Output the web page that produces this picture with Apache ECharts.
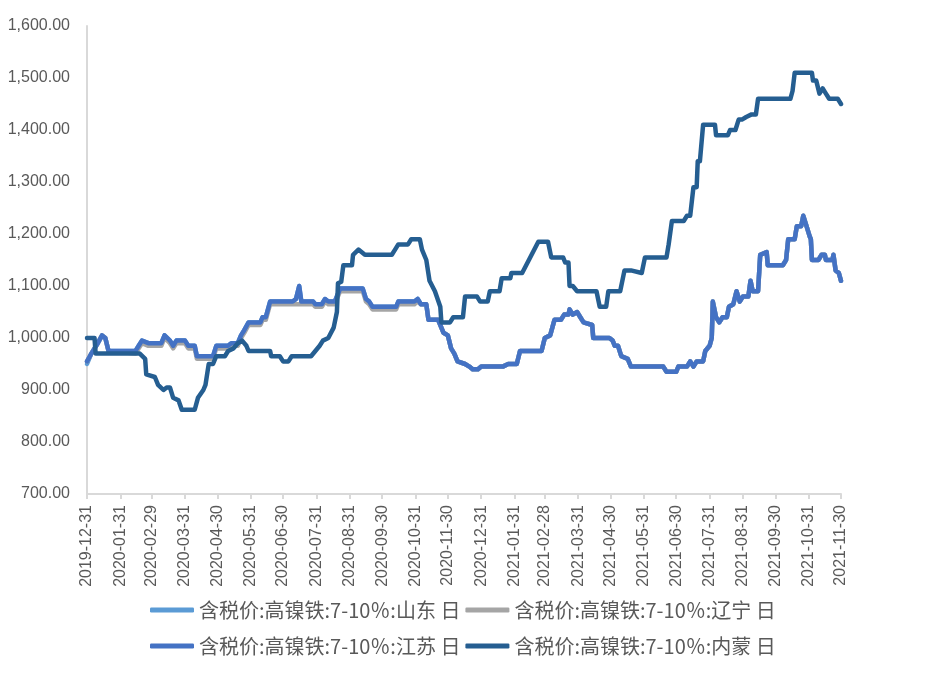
<!DOCTYPE html>
<html><head><meta charset="utf-8">
<script src="https://cdn.jsdelivr.net/npm/echarts@6/dist/echarts.min.js"></script>
<style>html,body{margin:0;padding:0;background:#fff}#c{width:929px;height:678px}</style>
</head><body><div id="c"></div>
<script>
const seriesNames = ['含税价:高镍铁:7-10％:山东 日','含税价:高镍铁:7-10％:辽宁 日','含税价:高镍铁:7-10％:江苏 日','含税价:高镍铁:7-10％:内蒙 日'];
const seriesColors = ['#5B9BD5','#A5A5A5','#4472C4','#255E91'];
const monthEndLabels = ['2019-12-31','2020-01-31','2020-02-29','2020-03-31','2020-04-30','2020-05-31','2020-06-30','2020-07-31','2020-08-31','2020-09-30','2020-10-31','2020-11-30','2020-12-31','2021-01-31','2021-02-28','2021-03-31','2021-04-30','2021-05-31','2021-06-30','2021-07-31','2021-08-31','2021-09-30','2021-10-31','2021-11-30'];
const yTicks = {min:700, max:1600, step:100};

// daily calendar categories
const categories = [];
(function(){
  let t = Date.UTC(2019,11,31); const end = Date.UTC(2021,10,30);
  while (t <= end) { categories.push(new Date(t).toISOString().slice(0,10)); t += 86400000; }
})();

const shandong = [['2019-12-31',950],['2020-01-04',970],['2020-01-10',990],['2020-01-14',1005],['2020-01-17',1000],['2020-01-20',975],['2020-02-14',975],['2020-02-17',985],['2020-02-20',995],['2020-02-26',990],['2020-03-09',990],['2020-03-12',1005],['2020-03-17',995],['2020-03-20',985],['2020-03-23',995],['2020-03-31',995],['2020-04-03',985],['2020-04-09',985],['2020-04-11',965],['2020-04-26',965],['2020-04-29',985],['2020-05-10',985],['2020-05-13',990],['2020-05-19',990],['2020-05-22',1005],['2020-05-25',1015],['2020-05-29',1030],['2020-06-09',1030],['2020-06-11',1040],['2020-06-14',1040],['2020-06-18',1070],['2020-07-09',1070],['2020-07-12',1075],['2020-07-15',1100],['2020-07-17',1070],['2020-07-28',1070],['2020-07-30',1065],['2020-08-05',1065],['2020-08-08',1075],['2020-08-11',1070],['2020-08-17',1070],['2020-08-22',1095],['2020-09-12',1095],['2020-09-15',1075],['2020-09-18',1070],['2020-09-21',1060],['2020-10-13',1060],['2020-10-15',1070],['2020-10-30',1070],['2020-11-02',1075],['2020-11-05',1065],['2020-11-10',1065],['2020-11-12',1035],['2020-11-21',1035],['2020-11-26',1010],['2020-11-30',1005],['2020-12-03',980],['2020-12-06',970],['2020-12-09',955],['2020-12-16',950],['2020-12-20',945],['2020-12-23',940],['2020-12-28',940],['2020-12-31',945],['2021-01-20',945],['2021-01-25',950],['2021-02-02',950],['2021-02-05',975],['2021-02-25',975],['2021-02-28',1000],['2021-03-05',1005],['2021-03-09',1035],['2021-03-15',1035],['2021-03-18',1045],['2021-03-22',1045],['2021-03-23',1055],['2021-03-26',1045],['2021-03-30',1050],['2021-04-02',1040],['2021-04-05',1030],['2021-04-13',1025],['2021-04-14',1000],['2021-04-29',1000],['2021-05-02',995],['2021-05-04',985],['2021-05-07',985],['2021-05-10',965],['2021-05-16',960],['2021-05-19',945],['2021-06-18',945],['2021-06-21',935],['2021-06-30',935],['2021-07-02',945],['2021-07-10',945],['2021-07-13',955],['2021-07-16',945],['2021-07-19',955],['2021-07-25',955],['2021-07-27',975],['2021-07-31',985],['2021-08-02',1000],['2021-08-03',1070],['2021-08-06',1040],['2021-08-09',1030],['2021-08-12',1040],['2021-08-16',1040],['2021-08-18',1060],['2021-08-22',1065],['2021-08-25',1090],['2021-08-28',1070],['2021-08-31',1080],['2021-09-05',1080],['2021-09-07',1110],['2021-09-09',1090],['2021-09-14',1090],['2021-09-16',1160],['2021-09-22',1165],['2021-09-23',1140],['2021-10-07',1140],['2021-10-10',1150],['2021-10-12',1190],['2021-10-18',1190],['2021-10-20',1215],['2021-10-24',1215],['2021-10-26',1235],['2021-10-29',1215],['2021-11-01',1195],['2021-11-02',1190],['2021-11-03',1150],['2021-11-09',1150],['2021-11-12',1160],['2021-11-15',1160],['2021-11-16',1150],['2021-11-22',1150],['2021-11-23',1160],['2021-11-25',1130],['2021-11-28',1125],['2021-11-30',1110]];

const liaoning = [['2019-12-31',955],['2020-01-04',970],['2020-01-10',990],['2020-01-14',1005],['2020-01-17',1000],['2020-01-20',975],['2020-02-14',970],['2020-02-17',980],['2020-02-20',990],['2020-02-26',985],['2020-03-09',985],['2020-03-12',1000],['2020-03-17',990],['2020-03-20',980],['2020-03-23',990],['2020-03-31',990],['2020-04-03',980],['2020-04-09',980],['2020-04-11',960],['2020-04-26',960],['2020-04-29',980],['2020-05-10',980],['2020-05-13',985],['2020-05-19',985],['2020-05-22',1000],['2020-05-25',1010],['2020-05-29',1025],['2020-06-09',1025],['2020-06-11',1035],['2020-06-14',1035],['2020-06-18',1065],['2020-07-09',1065],['2020-07-12',1065],['2020-07-15',1065],['2020-07-17',1065],['2020-07-28',1065],['2020-07-30',1060],['2020-08-05',1060],['2020-08-08',1070],['2020-08-11',1065],['2020-08-17',1065],['2020-08-22',1090],['2020-09-12',1090],['2020-09-15',1070],['2020-09-18',1065],['2020-09-21',1055],['2020-10-13',1055],['2020-10-15',1065],['2020-10-30',1065],['2020-11-02',1070],['2020-11-05',1065],['2020-11-10',1065],['2020-11-12',1035],['2020-11-21',1035],['2020-11-26',1010],['2020-11-30',1005],['2020-12-03',980],['2020-12-06',970],['2020-12-09',955],['2020-12-16',950],['2020-12-20',945],['2020-12-23',940],['2020-12-28',940],['2020-12-31',945],['2021-01-20',945],['2021-01-25',950],['2021-02-02',950],['2021-02-05',975],['2021-02-25',975],['2021-02-28',1000],['2021-03-05',1005],['2021-03-09',1035],['2021-03-15',1035],['2021-03-18',1045],['2021-03-22',1045],['2021-03-23',1055],['2021-03-26',1045],['2021-03-30',1050],['2021-04-02',1040],['2021-04-05',1030],['2021-04-13',1025],['2021-04-14',1000],['2021-04-29',1000],['2021-05-02',995],['2021-05-04',985],['2021-05-07',985],['2021-05-10',965],['2021-05-16',960],['2021-05-19',945],['2021-06-18',945],['2021-06-21',935],['2021-06-30',935],['2021-07-02',945],['2021-07-10',945],['2021-07-13',955],['2021-07-16',945],['2021-07-19',955],['2021-07-25',955],['2021-07-27',975],['2021-07-31',985],['2021-08-02',1000],['2021-08-03',1070],['2021-08-06',1040],['2021-08-09',1030],['2021-08-12',1040],['2021-08-16',1040],['2021-08-18',1060],['2021-08-22',1065],['2021-08-25',1090],['2021-08-28',1070],['2021-08-31',1080],['2021-09-05',1080],['2021-09-07',1110],['2021-09-09',1090],['2021-09-14',1090],['2021-09-16',1160],['2021-09-22',1165],['2021-09-23',1140],['2021-10-07',1140],['2021-10-10',1150],['2021-10-12',1190],['2021-10-18',1190],['2021-10-20',1215],['2021-10-24',1215],['2021-10-26',1235],['2021-10-29',1215],['2021-11-01',1195],['2021-11-02',1190],['2021-11-03',1150],['2021-11-09',1150],['2021-11-12',1160],['2021-11-15',1160],['2021-11-16',1150],['2021-11-22',1150],['2021-11-23',1160],['2021-11-25',1130],['2021-11-28',1125],['2021-11-30',1110]];

const jiangsu = [['2019-12-31',955],['2020-01-04',970],['2020-01-10',990],['2020-01-14',1005],['2020-01-17',1000],['2020-01-20',975],['2020-02-14',975],['2020-02-17',985],['2020-02-20',995],['2020-02-26',990],['2020-03-09',990],['2020-03-12',1005],['2020-03-17',995],['2020-03-20',985],['2020-03-23',995],['2020-03-31',995],['2020-04-03',985],['2020-04-09',985],['2020-04-11',965],['2020-04-26',965],['2020-04-29',985],['2020-05-10',985],['2020-05-13',990],['2020-05-19',990],['2020-05-22',1005],['2020-05-25',1015],['2020-05-29',1030],['2020-06-09',1030],['2020-06-11',1040],['2020-06-14',1040],['2020-06-18',1070],['2020-07-09',1070],['2020-07-12',1075],['2020-07-15',1100],['2020-07-17',1070],['2020-07-28',1070],['2020-07-30',1065],['2020-08-05',1065],['2020-08-08',1075],['2020-08-11',1070],['2020-08-17',1070],['2020-08-22',1095],['2020-09-12',1095],['2020-09-15',1075],['2020-09-18',1070],['2020-09-21',1060],['2020-10-13',1060],['2020-10-15',1070],['2020-10-30',1070],['2020-11-02',1075],['2020-11-05',1065],['2020-11-10',1065],['2020-11-12',1035],['2020-11-21',1035],['2020-11-26',1010],['2020-11-30',1005],['2020-12-03',980],['2020-12-06',970],['2020-12-09',955],['2020-12-16',950],['2020-12-20',945],['2020-12-23',940],['2020-12-28',940],['2020-12-31',945],['2021-01-20',945],['2021-01-25',950],['2021-02-02',950],['2021-02-05',975],['2021-02-25',975],['2021-02-28',1000],['2021-03-05',1005],['2021-03-09',1035],['2021-03-15',1035],['2021-03-18',1045],['2021-03-22',1045],['2021-03-23',1055],['2021-03-26',1045],['2021-03-30',1050],['2021-04-02',1040],['2021-04-05',1030],['2021-04-13',1025],['2021-04-14',1000],['2021-04-29',1000],['2021-05-02',995],['2021-05-04',985],['2021-05-07',985],['2021-05-10',965],['2021-05-16',960],['2021-05-19',945],['2021-06-18',945],['2021-06-21',935],['2021-06-30',935],['2021-07-02',945],['2021-07-10',945],['2021-07-13',955],['2021-07-16',945],['2021-07-19',955],['2021-07-25',955],['2021-07-27',975],['2021-07-31',985],['2021-08-02',1000],['2021-08-03',1070],['2021-08-06',1040],['2021-08-09',1030],['2021-08-12',1040],['2021-08-16',1040],['2021-08-18',1060],['2021-08-22',1065],['2021-08-25',1090],['2021-08-28',1070],['2021-08-31',1080],['2021-09-05',1080],['2021-09-07',1110],['2021-09-09',1090],['2021-09-14',1090],['2021-09-16',1160],['2021-09-22',1165],['2021-09-23',1140],['2021-10-07',1140],['2021-10-10',1150],['2021-10-12',1190],['2021-10-18',1190],['2021-10-20',1215],['2021-10-24',1215],['2021-10-26',1235],['2021-10-29',1215],['2021-11-01',1195],['2021-11-02',1190],['2021-11-03',1150],['2021-11-09',1150],['2021-11-12',1160],['2021-11-15',1160],['2021-11-16',1150],['2021-11-22',1150],['2021-11-23',1160],['2021-11-25',1130],['2021-11-28',1125],['2021-11-30',1110]];

const neimeng = [['2019-12-31',1000],['2020-01-07',1000],['2020-01-08',970],['2020-02-18',970],['2020-02-23',960],['2020-02-24',930],['2020-03-03',925],['2020-03-06',910],['2020-03-11',900],['2020-03-14',905],['2020-03-17',905],['2020-03-20',885],['2020-03-25',880],['2020-03-28',862],['2020-04-09',862],['2020-04-12',885],['2020-04-17',900],['2020-04-19',910],['2020-04-22',950],['2020-04-26',950],['2020-04-29',965],['2020-05-07',965],['2020-05-10',975],['2020-05-15',980],['2020-05-19',990],['2020-05-23',995],['2020-05-27',985],['2020-05-29',975],['2020-06-18',975],['2020-06-19',965],['2020-06-27',965],['2020-06-30',955],['2020-07-05',955],['2020-07-08',965],['2020-07-26',965],['2020-07-30',975],['2020-08-03',985],['2020-08-06',995],['2020-08-11',1000],['2020-08-16',1020],['2020-08-19',1050],['2020-08-20',1105],['2020-08-23',1108],['2020-08-25',1140],['2020-09-02',1140],['2020-09-03',1160],['2020-09-08',1170],['2020-09-14',1160],['2020-10-09',1160],['2020-10-12',1170],['2020-10-15',1180],['2020-10-24',1180],['2020-10-27',1190],['2020-11-04',1190],['2020-11-06',1170],['2020-11-10',1150],['2020-11-13',1110],['2020-11-18',1090],['2020-11-23',1060],['2020-11-24',1030],['2020-12-02',1030],['2020-12-05',1040],['2020-12-14',1040],['2020-12-16',1080],['2020-12-27',1080],['2020-12-30',1070],['2021-01-06',1070],['2021-01-08',1090],['2021-01-17',1090],['2021-01-19',1115],['2021-01-27',1115],['2021-01-28',1125],['2021-02-07',1125],['2021-02-22',1185],['2021-03-03',1185],['2021-03-06',1155],['2021-03-17',1155],['2021-03-19',1145],['2021-03-22',1145],['2021-03-23',1100],['2021-03-26',1100],['2021-03-30',1090],['2021-04-17',1090],['2021-04-20',1060],['2021-04-26',1060],['2021-04-28',1090],['2021-05-09',1090],['2021-05-13',1130],['2021-05-19',1130],['2021-05-29',1125],['2021-06-01',1155],['2021-06-21',1155],['2021-06-23',1180],['2021-06-26',1225],['2021-07-07',1225],['2021-07-10',1235],['2021-07-13',1235],['2021-07-16',1290],['2021-07-19',1290],['2021-07-20',1340],['2021-07-22',1340],['2021-07-25',1410],['2021-08-05',1410],['2021-08-06',1390],['2021-08-17',1390],['2021-08-19',1400],['2021-08-24',1400],['2021-08-27',1420],['2021-08-30',1420],['2021-09-03',1425],['2021-09-08',1430],['2021-09-12',1430],['2021-09-14',1460],['2021-10-14',1460],['2021-10-16',1475],['2021-10-18',1510],['2021-11-03',1510],['2021-11-04',1495],['2021-11-07',1495],['2021-11-10',1470],['2021-11-13',1480],['2021-11-16',1470],['2021-11-19',1460],['2021-11-27',1460],['2021-11-30',1450]];

const seriesData = [shandong, liaoning, jiangsu, neimeng];
const monthEndSet = new Set(monthEndLabels);
const isMonthEnd = (idx, val) => monthEndSet.has(val);

const chart = echarts.init(document.getElementById('c'));
const legendText = {fontSize:20, color:'#595959', fontFamily:'Noto Sans CJK SC'};
chart.setOption({
  animation:false,
  backgroundColor:'#fff',
  grid:{left:87, right:88, top:26, bottom:184, containLabel:false},
  legend:[
    {data:[seriesNames[0],seriesNames[1]], left:150, top:600, itemWidth:44, itemHeight:5, icon:'roundRect', itemGap:5, padding:0, textStyle:legendText},
    {data:[seriesNames[2],seriesNames[3]], left:150, top:636, itemWidth:44, itemHeight:5, icon:'roundRect', itemGap:5, padding:0, textStyle:legendText}
  ],
  xAxis:{
    type:'category', data:categories, boundaryGap:false,
    axisLine:{lineStyle:{color:'#d9d9d9', width:2}},
    axisTick:{show:true, interval:isMonthEnd, length:5, lineStyle:{color:'#d9d9d9', width:2}},
    axisLabel:{interval:isMonthEnd, rotate:90, color:'#595959', fontSize:16, fontFamily:'Liberation Sans', margin:11},
    splitLine:{show:false}
  },
  yAxis:{
    type:'value', min:yTicks.min, max:yTicks.max, interval:yTicks.step,
    axisLine:{show:true, lineStyle:{color:'#d9d9d9', width:2}},
    axisTick:{show:false},
    splitLine:{show:false},
    axisLabel:{color:'#595959', fontSize:16, fontFamily:'Liberation Sans', margin:17,
      formatter:v => v.toLocaleString('en-US',{minimumFractionDigits:2, maximumFractionDigits:2})}
  },
  series: seriesNames.map((n,i)=>({
    name:n, type:'line', data:seriesData[i], showSymbol:false, symbol:'none',
    color:seriesColors[i],
    lineStyle:{width:4.5, color:seriesColors[i], cap:'round', join:'round'},
    emphasis:{disabled:true}
  }))
});
</script></body></html>
